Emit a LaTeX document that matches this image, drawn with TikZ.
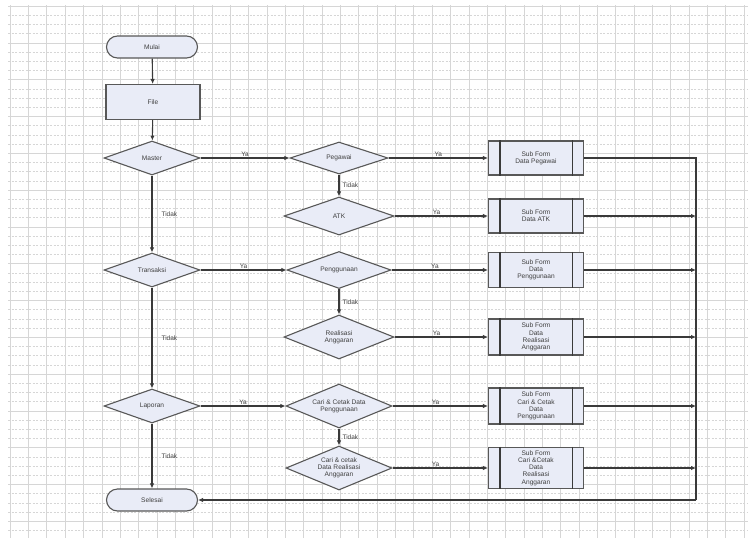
\documentclass[tikz,border=0pt]{standalone}
\usepackage{fontspec}
\setmainfont{Liberation Sans}
\usetikzlibrary{shapes.geometric,shapes.misc,arrows.meta}
\definecolor{shapefill}{HTML}{E9ECF7}
\definecolor{edgecol}{HTML}{3A3A3A}
\definecolor{gridcol}{HTML}{D6D6D6}
\tikzset{
  base/.style={draw=edgecol!85, line width=1.1pt, fill=shapefill, font=\fontsize{6.6}{7.2}\selectfont, align=center, inner sep=0pt, text=black!75},
  term/.style={base, rounded rectangle, minimum width=91pt, minimum height=22pt},
  proc/.style={base, rectangle, minimum width=94pt, minimum height=35pt},
  dec/.style={base, diamond, shape aspect=2.6, minimum width=#1},
  dec/.default=100pt,
  subf/.style={base, rectangle, minimum width=95pt},
  conn/.style={draw=edgecol, line width=1.1pt, -{Latex[length=5pt,width=4.5pt]}},
  plain/.style={draw=edgecol, line width=1.1pt},
  lbl/.style={font=\fontsize{6.5}{7}\selectfont, text=black!75, inner sep=1pt}
}
\begin{document}
\begin{tikzpicture}[x=1pt,y=-1pt]
\useasboundingbox (0,0) rectangle (751,541);
\fill[white] (0,0) rectangle (751,541);
% grid
\foreach \i in {0,...,40} {
  \draw[gridcol, line width=0.5pt] (10+18.35*\i,5) -- (10+18.35*\i,538);
}
\foreach \j in {0,...,57} {
  \draw[gridcol, line width=0.4pt, dash pattern=on 2pt off 1.5pt] (8,6+9.2*\j) -- (748,6+9.2*\j);
}
\foreach \j in {0,...,14} {
  \draw[gridcol, line width=0.5pt] (8,6+36.8*\j) -- (748,6+36.8*\j);
}

% left column
\node[term] (mulai) at (152,47) {Mulai};
\node[proc] (file) at (153,102) {File};
\node[dec=96pt, minimum height=34pt] (master) at (152,158) {Master};
\node[dec=96pt, minimum height=34pt] (trans) at (152,270) {Transaksi};
\node[dec=96pt, minimum height=34pt] (lap) at (152,406) {Laporan};
\node[term] (selesai) at (152,500) {Selesai};

% middle column
\node[dec=98pt, minimum height=32pt] (peg) at (339,158) {Pegawai};
\node[dec=110pt, minimum height=38pt] (atk) at (339,216) {ATK};
\node[dec=104pt, minimum height=37pt] (peng) at (339,270) {Penggunaan};
\node[dec=110pt, minimum height=44pt] (real) at (339,337) {Realisasi\\Anggaran};
\node[dec=106pt, minimum height=44pt] (caripeng) at (339,406) {Cari \& Cetak Data\\Penggunaan};
\node[dec=106pt, minimum height=44pt] (carireal) at (339,468) {Cari \& cetak\\Data Realisasi\\Anggaran};

% sub forms
\node[subf, minimum height=34pt] (sp) at (536,158) {Sub Form\\Data Pegawai};
\node[subf, minimum height=34pt] (sa) at (536,216) {Sub Form\\Data ATK};
\node[subf, minimum height=35pt] (sg) at (536,270) {Sub Form\\Data\\Penggunaan};
\node[subf, minimum height=36pt] (sr) at (536,337) {Sub Form\\Data\\Realisasi\\Anggaran};
\node[subf, minimum height=36pt] (sc) at (536,406) {Sub Form\\Cari \& Cetak\\Data\\Penggunaan};
\node[subf, minimum height=41pt] (sd) at (536,468) {Sub Form\\Cari \&Cetak\\Data\\Realisasi\\Anggaran};
\foreach \n in {sp,sa,sg,sr,sc,sd} {
  \draw[edgecol, line width=1.1pt] ([xshift=12pt]\n.north west) -- ([xshift=12pt]\n.south west);
  \draw[edgecol, line width=1.1pt] ([xshift=-12pt]\n.north east) -- ([xshift=-12pt]\n.south east);
}

% bus coordinates
\coordinate (bt) at (696,158);
\coordinate (bb) at (696,500);

% vertical flow
\draw[conn] (mulai) -- (file);
\draw[conn] (file) -- (master);
\draw[conn] (master) -- node[lbl, right, xshift=8pt] {Tidak} (trans);
\draw[conn] (trans) -- node[lbl, right, xshift=8pt] {Tidak} (lap);
\draw[conn] (lap) -- node[lbl, right, xshift=8pt] {Tidak} (selesai);
\draw[conn] (peg) -- node[lbl, right, xshift=2pt] {Tidak} (atk);
\draw[conn] (peng) -- node[lbl, right, xshift=2pt] {Tidak} (real);
\draw[conn] (caripeng) -- node[lbl, right, xshift=2pt] {Tidak} (carireal);

% horizontal Ya
\draw[conn] (master) -- node[lbl, above] {Ya} (peg);
\draw[conn] (trans) -- node[lbl, above] {Ya} (peng);
\draw[conn] (lap) -- node[lbl, above] {Ya} (caripeng);
\draw[conn] (peg) -- node[lbl, above] {Ya} (sp.west |- peg);
\draw[conn] (atk) -- node[lbl, above, pos=0.45] {Ya} (sa.west |- atk);
\draw[conn] (peng) -- node[lbl, above, pos=0.45] {Ya} (sg.west |- peng);
\draw[conn] (real) -- node[lbl, above, pos=0.45] {Ya} (sr.west |- real);
\draw[conn] (caripeng) -- node[lbl, above, pos=0.45] {Ya} (sc.west |- caripeng);
\draw[conn] (carireal) -- node[lbl, above, pos=0.45] {Ya} (sd.west |- carireal);

% outputs to bus
\draw[plain] (sp.east) -- (bt) -- (bb);
\draw[conn] (sa.east) -- (bt |- sa.east);
\draw[conn] (sg.east) -- (bt |- sg.east);
\draw[conn] (sr.east) -- (bt |- sr.east);
\draw[conn] (sc.east) -- (bt |- sc.east);
\draw[conn] (sd.east) -- (bt |- sd.east);
\draw[conn] (bb) -- (selesai.east);
\end{tikzpicture}
\end{document}
